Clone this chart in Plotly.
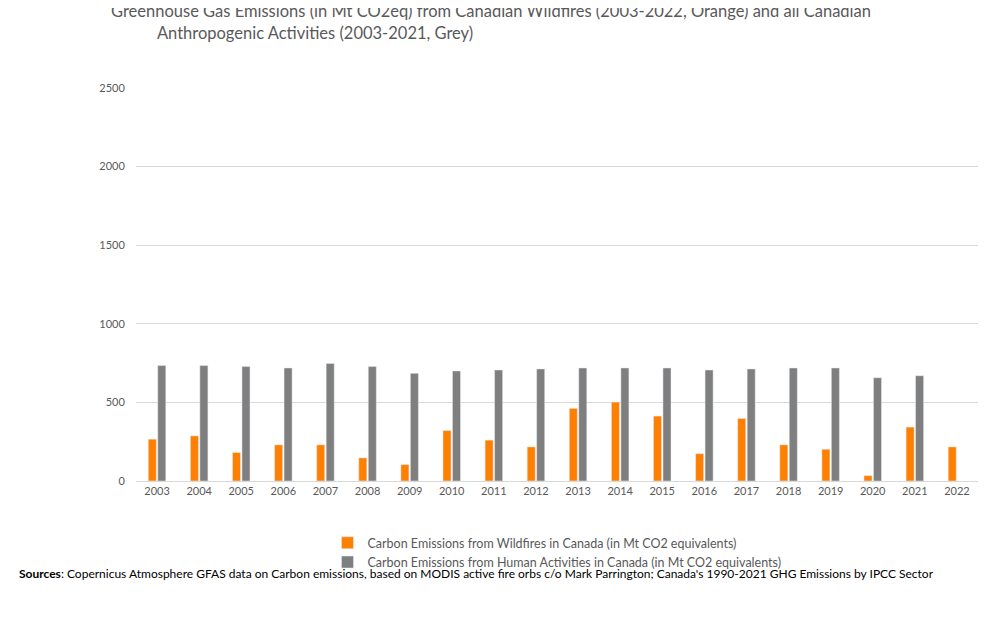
import plotly.graph_objects as go

years = [str(y) for y in range(2003, 2023)]
wildfire = [266, 287, 181, 230, 230, 147, 104, 321, 260, 217, 462, 502, 413, 174, 398, 230, 202, 34, 343, 217]
human = [734, 734, 728, 719, 747, 728, 685, 700, 706, 713, 719, 719, 719, 706, 713, 719, 719, 657, 670, None]

font = "Lato, 'Open Sans', sans-serif"

fig = go.Figure()
fig.add_trace(go.Bar(x=years, y=wildfire, marker_color="#FF7F00",
                     name="Carbon Emissions from Wildfires in Canada (in Mt CO2 equivalents)"))
fig.add_trace(go.Bar(x=years, y=human, marker_color="#7F7F7F",
                     name="Carbon Emissions from Human Activities in Canada (in Mt CO2 equivalents)"))

fig.update_layout(
    width=1000, height=630,
    paper_bgcolor="white", plot_bgcolor="white",
    font=dict(family=font, color="#595959", size=11),
    margin=dict(l=128, r=30, t=80, b=157),
    barmode="group", bargap=0.55, bargroupgap=0.15,
    title=dict(text="Greenhouse Gas Emissions (in Mt CO2eq) from Canadian Wildfires (2003-2022, Orange) and all Canadian<br>"
                    "           Anthropogenic Activities (2003-2021, Grey)",
               x=0.103, xanchor="left", y=0.985, yanchor="top",
               font=dict(size=16.5, color="#595959", family=font)),
    legend=dict(orientation="h", x=0.5, xanchor="center", y=-0.12, yanchor="top",
                font=dict(size=12.5, color="#595959"), itemwidth=30, tracegroupgap=0),
    yaxis=dict(range=[0, 2500], dtick=500, gridcolor="#D9D9D9", zeroline=False,
               tickfont=dict(size=11), ticklen=8, ticks="outside", tickcolor="white"),
    xaxis=dict(showline=True, linecolor="#D9D9D9", tickfont=dict(size=11)),
    annotations=[dict(text="<b>Sources</b>: Copernicus Atmosphere GFAS data on Carbon emissions, based on MODIS active fire orbs c/o Mark Parrington; Canada's 1990-2021 GHG Emissions by IPCC Sector",
                      xref="paper", yref="paper", x=-0.141, y=-0.235, xanchor="left", yanchor="middle",
                      showarrow=False, font=dict(size=12, color="black"))],
)

fig.write_html("out.html")
